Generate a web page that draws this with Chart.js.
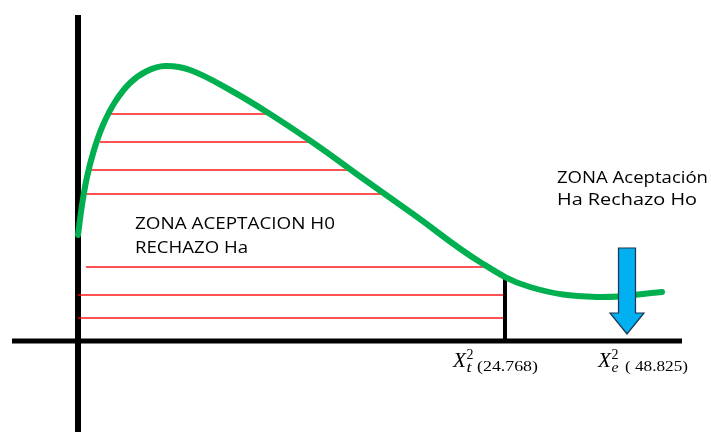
<!DOCTYPE html>
<html>
<head>
<meta charset="utf-8">
<script src="https://cdn.jsdelivr.net/npm/chart.js@4/dist/chart.umd.min.js"></script>
<style>
  html, body { margin: 0; padding: 0; background: #fff; }
  #wrap { width: 711px; height: 432px; position: relative; }
</style>
</head>
<body>
<div id="wrap"><canvas id="chart"></canvas></div>
<script>
// chi-square curve (schematic units, origin at the axes crossing)
const curveX = [0, 0.4, 0.9, 1.6, 2.5, 3.7, 5.2, 6.9, 8.7, 11.2, 15.2, 19.2, 23.7, 28.7, 33.5, 40.2, 45.2, 51.9, 58.4];
const curveY = [10.6, 13.6, 16.4, 19.1, 21.6, 23.9, 25.8, 27.0, 27.5, 27.1, 25.1, 22.7, 19.7, 16.1, 12.7, 7.9, 5.4, 4.4, 4.9];

// red hatching of the acceptance zone
const hatchY = [22.7, 19.9, 17.1, 14.7, 7.4, 4.6, 2.3];
const hatchFrom = [3.2, 2.2, 0.9, 0.8, 0.8, 0, 0];
const hatchTo = [19, 23.7, 27.2, 30.7, 40.9, 42.7, 42.7];

// critical value marker and observed value arrow
const critX = 42.7;
const critTop = 6.4;
const arrowX = 54.9;
const arrowTop = 9.3;
const arrowHead = 2.8;
const arrowTip = 0.7;

// axes
const xAxisSpan = [-6.6, 60.4];
const yAxisSpan = [-9.1, 32.6];

// texts
const zoneLeft = ['ZONA ACEPTACION H0', 'RECHAZO Ha'];
const zoneRight = ['ZONA Aceptación', 'Ha Rechazo Ho'];
const critLabel = ['X', '2', 't', '(24.768)'];
const obsLabel = ['X', '2', 'e', '( 48.825)'];

const seg = (x0, y0, x1, y1) => [{ x: x0, y: y0 }, { x: x1, y: y1 }];

const datasets = [];
datasets.push({
  data: curveX.map((x, i) => ({ x: x, y: curveY[i] })),
  borderColor: '#00b050',
  borderWidth: 6,
  borderCapStyle: 'round',
  tension: 0.4
});
datasets.push({
  data: seg(critX, critTop, critX, 0),
  borderColor: '#000',
  borderWidth: 4
});
hatchY.forEach((y, i) => {
  datasets.push({
    data: seg(hatchFrom[i], y, hatchTo[i], y),
    borderColor: 'rgba(255, 0, 0, 0.9)',
    borderWidth: 1.5
  });
});
datasets.push({
  data: seg(xAxisSpan[0], 0, xAxisSpan[1], 0),
  borderColor: '#000',
  borderWidth: 5
});
datasets.push({
  data: seg(0, yAxisSpan[0], 0, yAxisSpan[1]),
  borderColor: '#000',
  borderWidth: 6
});
datasets.forEach(d => {
  d.showLine = true;
  d.pointRadius = 0;
  d.pointHoverRadius = 0;
  d.fill = false;
});

// draws text stretched to a given width (the picture's text is wide)
function fitText(ctx, text, x, y, font, width) {
  ctx.save();
  ctx.font = font;
  const w = ctx.measureText(text).width;
  ctx.translate(x, y);
  ctx.scale(width / w, 1);
  ctx.fillText(text, 0, 0);
  ctx.restore();
}

const overlay = {
  id: 'overlay',
  afterDatasetsDraw(chart) {
    const ctx = chart.ctx;
    const sx = chart.scales.x, sy = chart.scales.y;

    // arrow
    const ax = sx.getPixelForValue(arrowX);
    const top = sy.getPixelForValue(arrowTop);
    const head = sy.getPixelForValue(arrowHead);
    const tip = sy.getPixelForValue(arrowTip);
    ctx.save();
    ctx.beginPath();
    ctx.moveTo(ax - 8.5, top);
    ctx.lineTo(ax + 8.5, top);
    ctx.lineTo(ax + 8.5, head);
    ctx.lineTo(ax + 17, head);
    ctx.lineTo(ax, tip);
    ctx.lineTo(ax - 17, head);
    ctx.lineTo(ax - 8.5, head);
    ctx.closePath();
    ctx.fillStyle = '#00b0f0';
    ctx.fill();
    ctx.lineWidth = 1.2;
    ctx.strokeStyle = '#1c3350';
    ctx.stroke();
    ctx.restore();

    // zone texts
    ctx.save();
    ctx.fillStyle = '#000';
    ctx.textBaseline = 'alphabetic';
    fitText(ctx, zoneLeft[0], 135, 229, '15.5px "Open Sans"', 200);
    fitText(ctx, zoneLeft[1], 135, 253, '15.5px "Open Sans"', 113);
    fitText(ctx, zoneRight[0], 557, 183, '15.5px "Open Sans"', 151);
    fitText(ctx, zoneRight[1], 557, 205, '15.5px "Open Sans"', 140);

    // chi-square labels
    const drawChi = (parts, x, numX, numW) => {
      fitText(ctx, parts[0], x, 367, 'italic 21px "Liberation Serif"', 13);
      fitText(ctx, parts[1], x + 13.5, 359, '14px "Liberation Serif"', 7);
      fitText(ctx, parts[2], x + 13.5, 372, 'italic 14px "Liberation Serif"', parts[2] === 't' ? 5 : 7);
      fitText(ctx, parts[3], numX, 371, '14.5px "Liberation Serif"', numW);
    };
    drawChi(critLabel, 453, 477, 61);
    drawChi(obsLabel, 598, 625, 63);
    ctx.restore();
  }
};

new Chart(document.getElementById('chart'), {
  type: 'scatter',
  data: { datasets: datasets },
  options: {
    responsive: true,
    maintainAspectRatio: false,
    animation: false,
    events: [],
    layout: { padding: 0 },
    scales: {
      x: { type: 'linear', min: -7.8, max: 63.3, display: false },
      y: { type: 'linear', min: -9.1, max: 34.1, display: false }
    },
    plugins: {
      legend: { display: false },
      tooltip: { enabled: false }
    }
  },
  plugins: [overlay]
});
</script>
</body>
</html>
